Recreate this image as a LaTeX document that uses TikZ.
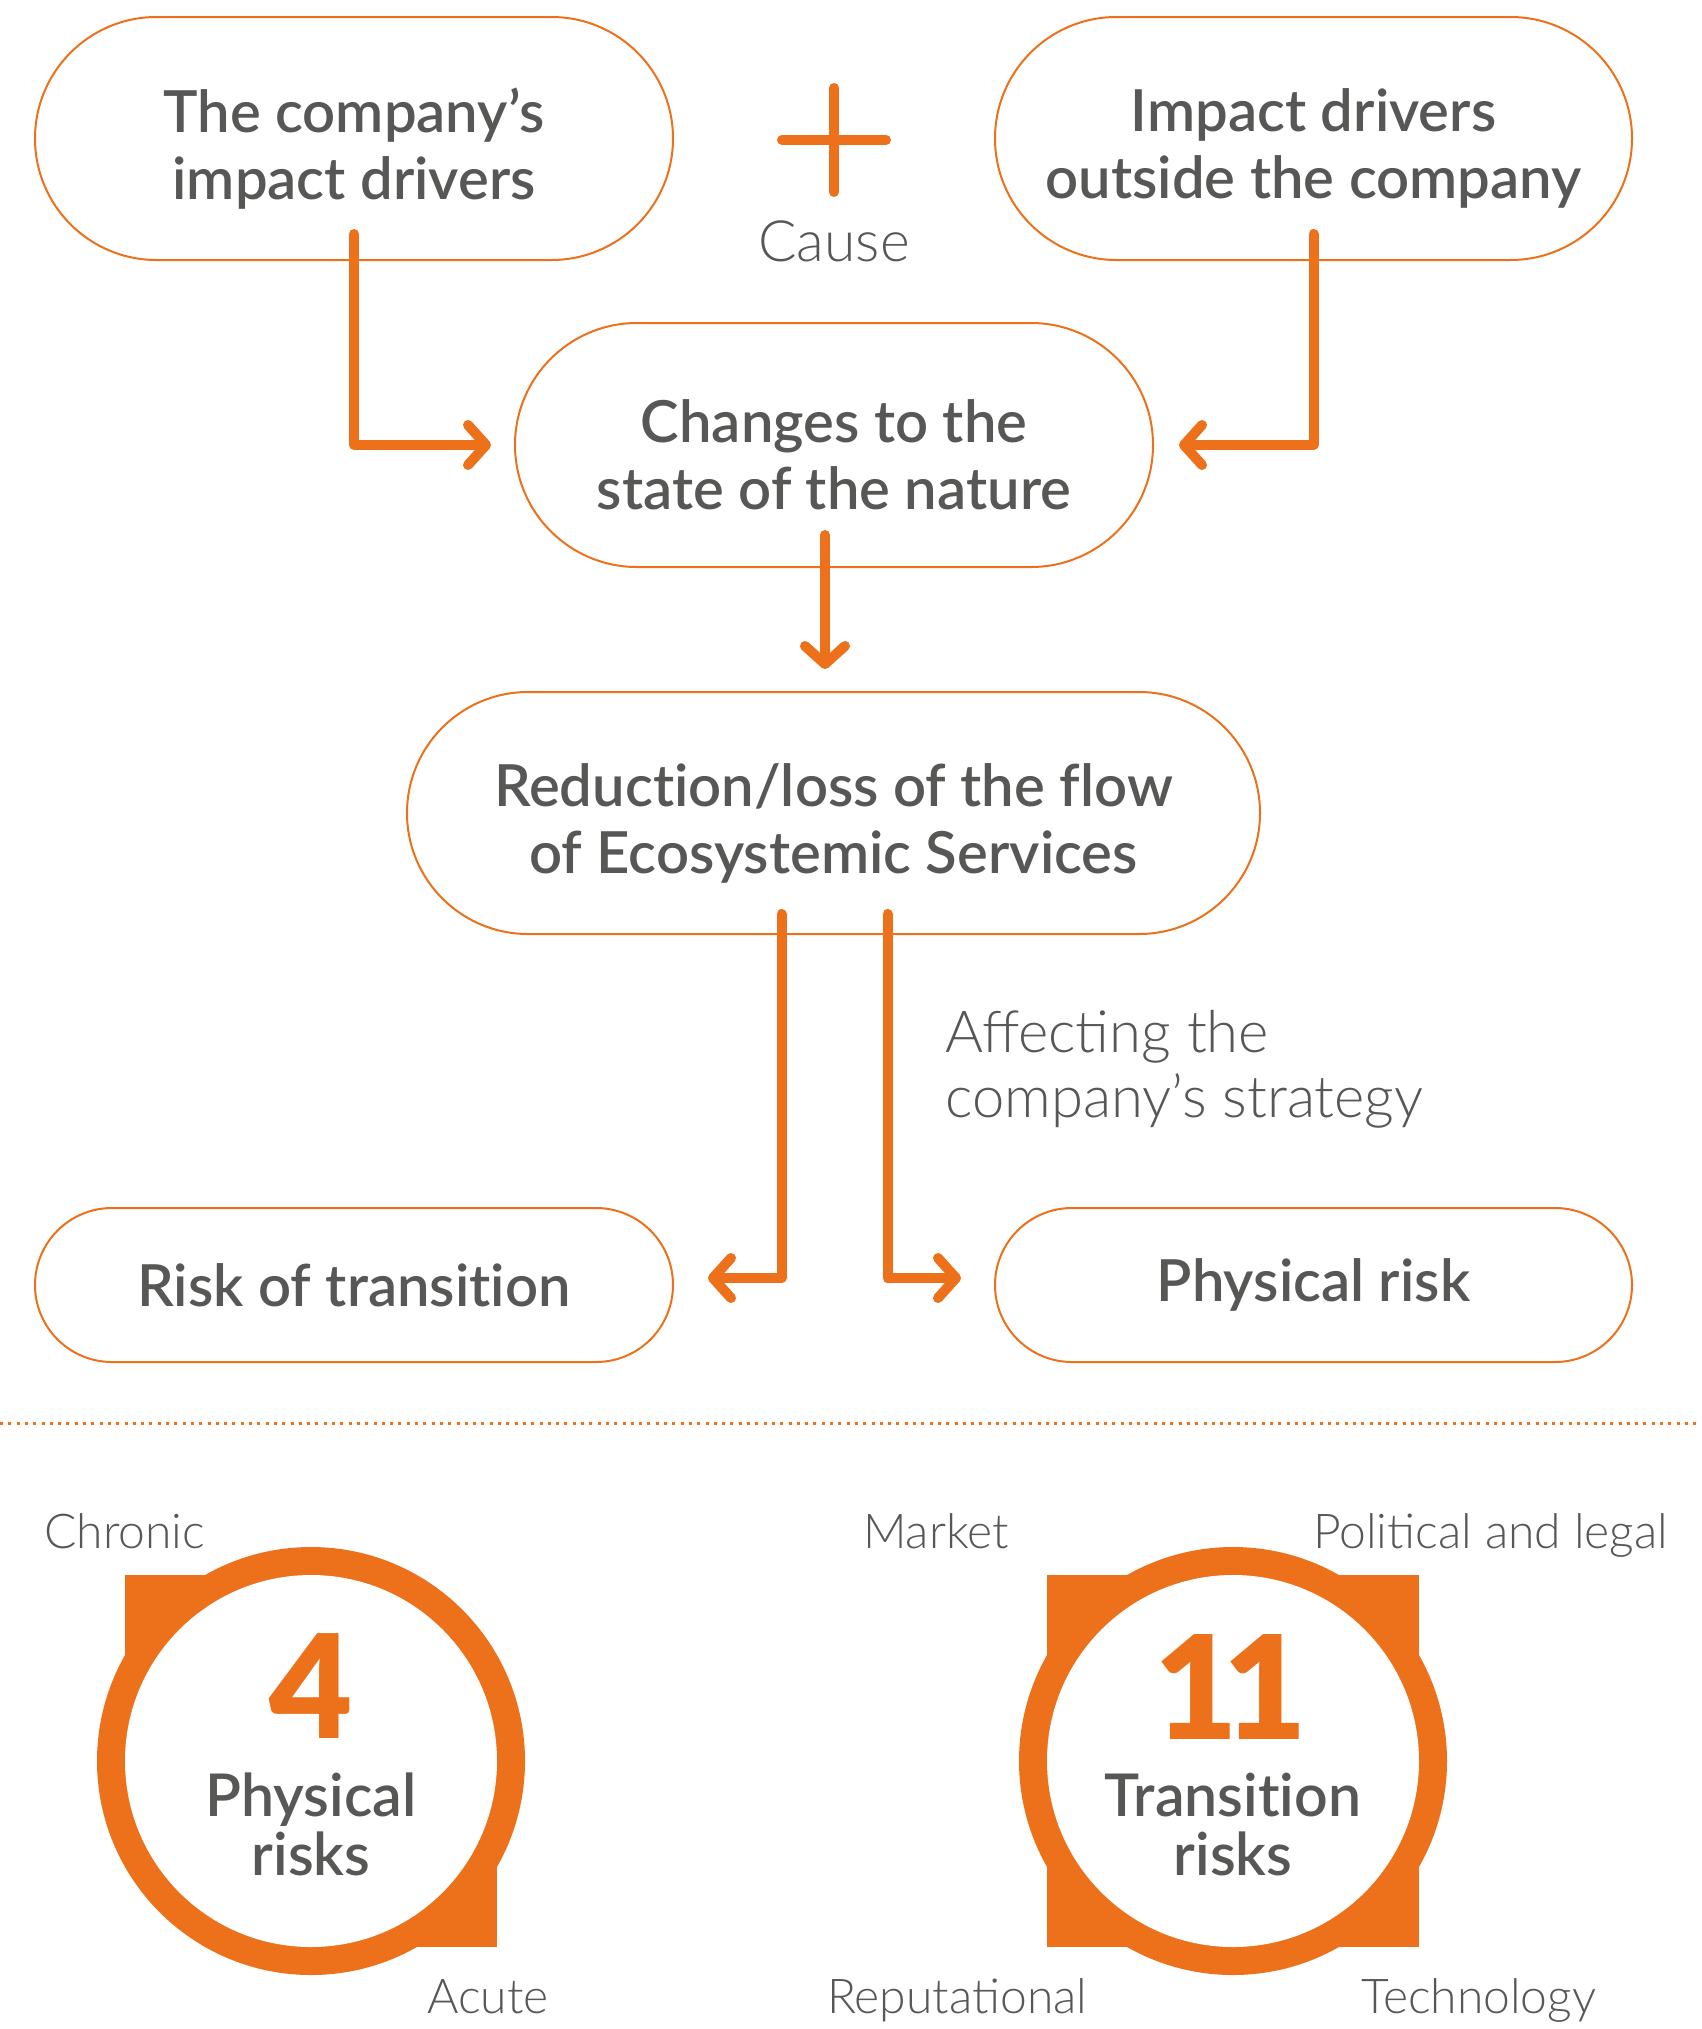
\documentclass[tikz,border=0pt]{standalone}
\usepackage{fontspec}
\usetikzlibrary{arrows.meta}
\setmainfont{Lato}
\IfFontExistsTF{Lato Semibold}{\newfontfamily\semibf{Lato Semibold}[Ligatures=NoCommon]}{\newcommand\semibf{\bfseries}}
\IfFontExistsTF{Lato Light}{\newfontfamily\lightf{Lato Light}}{\newcommand\lightf{\normalfont}}
\IfFontExistsTF{Lato Black}{\newfontfamily\heavyf{Lato Black}}{\newcommand\heavyf{\bfseries}}
\definecolor{brand}{RGB}{236,113,26}
\definecolor{ink}{RGB}{87,87,86}
% keep "t" and "i" as separate glyphs
\newcommand\tisep{t\kern0pt i}
\tikzset{
  pill/.style={draw=brand, line width=2pt, inner sep=0pt},
  pilltext/.style={inner sep=0pt, align=center, text=ink,
    font=\semibf\fontsize{58}{67}\selectfont},
  flow/.style={draw=brand, line width=10pt, line cap=round, line join=round,
    -{Straight Barb[length=18pt, width=40pt, round]}},
  crossbar/.style={draw=brand, line width=10pt, line cap=round},
  lighttext/.style={text=ink, inner sep=0pt, font=\lightf\fontsize{58}{65}\selectfont},
  tag/.style={text=ink, inner sep=0pt, anchor=base west, font=\lightf\fontsize{48}{50}\selectfont},
  bignum/.style={text=brand, inner sep=0pt, font=\heavyf\fontsize{144}{144}\selectfont},
  ringtext/.style={text=ink, inner sep=0pt, anchor=base, font=\semibf\fontsize{59}{57}\selectfont},
}
\begin{document}
\begin{tikzpicture}[x=1pt, y=-1pt]
\useasboundingbox (0,0) rectangle (1701,2029);
\fill[white] (0,0) rectangle (1701,2029);

% --- cause / effect chain ---
\node[pill, minimum width=638pt, minimum height=243pt, rounded corners=121.5pt]
  (p1) at (354,138.5) {};
\node[pilltext] (p1t) at ([yshift=-10pt]p1.center) {The company’s\\impact drivers};
\node[pill, minimum width=637pt, minimum height=243pt, rounded corners=121.5pt]
  (p2) at (1313.5,138.5) {};
\node[pilltext] (p2t) at ([yshift=-10pt]p2.center) {Impact drivers\\outside the company};
\node[pill, minimum width=638pt, minimum height=244pt, rounded corners=122pt]
  (p3) at (834,445) {};
\node[pilltext] (p3t) at ([yshift=-10pt]p3.center) {Changes to the\\state of the nature};
\node[pill, minimum width=853pt, minimum height=242pt, rounded corners=121pt]
  (p4) at (833.5,813) {};
\node[pilltext] (p4t) at ([yshift=-10pt]p4.center) {Reduction/loss of the flow\\of Ecosystemic Services};
\node[pill, pilltext, minimum width=638pt, minimum height=154pt, rounded corners=77pt]
  (p5) at (354,1285) {Risk of transi\tisep on};
\node[pill, pilltext, minimum width=637pt, minimum height=154pt, rounded corners=77pt]
  (p6) at (1313.5,1285) {Physical risk};

% plus sign with its caption
\coordinate (plus) at (834,140);
\draw[crossbar] ([xshift=-52pt]plus) -- ([xshift=52pt]plus);
\draw[crossbar] ([yshift=52pt]plus) -- ([yshift=-52pt]plus);
\node[lighttext, anchor=base, font=\lightf\fontsize{57}{65}\selectfont] (cause) at (834,261) {Cause};

% connectors
\draw[flow] ([yshift=27pt]p1.south) |- ([xshift=-23pt]p3.west);
\draw[flow] ([yshift=27pt]p2.south) |- ([xshift=25pt]p3.east);
\draw[flow] ([xshift=-9pt,yshift=33pt]p3.south) -- ([xshift=-8.5pt,yshift=22pt]p4.north);
\draw[flow] ([xshift=-52pt,yshift=21pt]p4.south) |- ([xshift=34pt,yshift=7pt]p5.east);
\draw[flow] ([xshift=54pt,yshift=21pt]p4.south) |- ([xshift=-33pt,yshift=7pt]p6.west);

% the last line's baseline is the node's base
\node[lighttext, anchor=base west, align=left] (affect) at (945,1117)
  {Affecting the\\company’s strategy};

% separator
\coordinate (sepL) at (0,1423);
\coordinate (sepR) at (1701,1423);
\draw[brand, line width=3pt, dash pattern=on 3pt off 5.3pt] (sepL) -- (sepR);

% --- physical risks badge ---
\coordinate (c1) at (311,1761);
\fill[brand] (c1) rectangle ++(-186,-186);
\fill[brand] (c1) rectangle ++(186,186);
\fill[brand] (c1) circle[radius=214pt];
\fill[white] (c1) circle[radius=186pt];
\node[bignum] (n1) at (311,1686.5) {4};
\node[ringtext] (t1a) at (311,1816) {Physical};
\node[ringtext] (t1b) at (311,1875) {risks};
\node[tag] (chronic) at (44,1548) {Chronic};
\node[tag] (acute) at (427,2013) {Acute};

% --- transition risks badge ---
\coordinate (c2) at (1233,1761);
\fill[brand] (c2) rectangle ++(-186,-186);
\fill[brand] (c2) rectangle ++(186,-186);
\fill[brand] (c2) rectangle ++(-186,186);
\fill[brand] (c2) rectangle ++(186,186);
\fill[brand] (c2) circle[radius=214pt];
\fill[white] (c2) circle[radius=186pt];
\node[bignum] (n2) at (1231,1686.5) {1\kern-15pt1};
\node[ringtext] (t2a) at (1233,1816) {Transi\tisep on};
\node[ringtext] (t2b) at (1233,1875) {risks};
\node[tag] (market) at (863,1548) {Market};
\node[tag] (legal) at (1313,1548) {Political and legal};
\node[tag] (reput) at (827,2013) {Reputational};
\node[tag] (tech) at (1361,2013) {Technology};
\end{tikzpicture}
\end{document}
